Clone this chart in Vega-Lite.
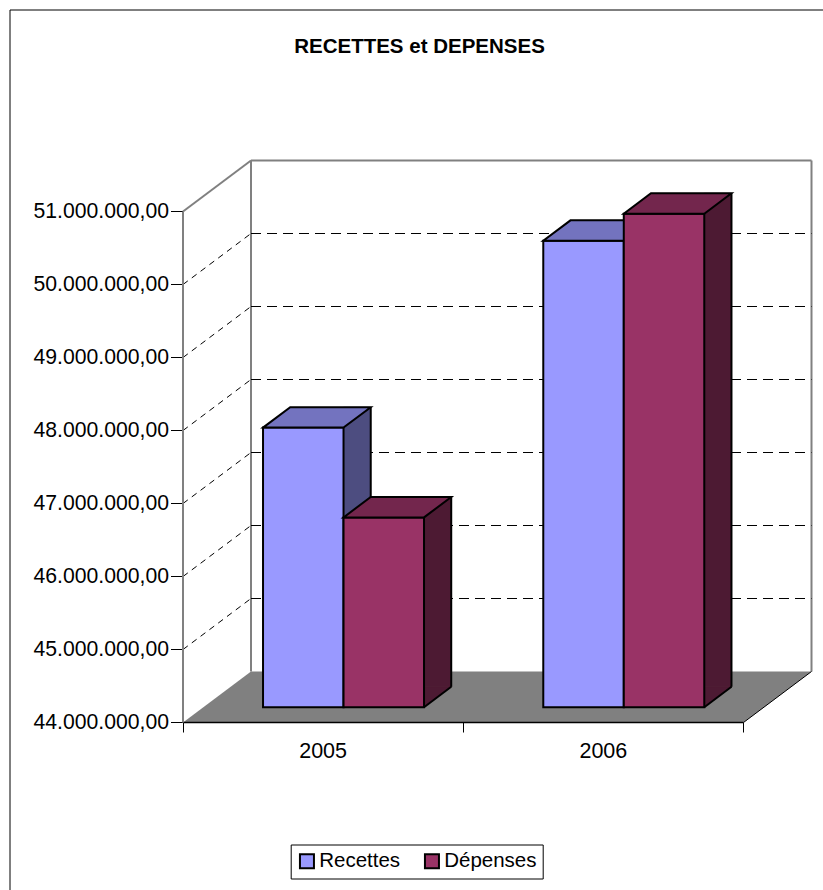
{
  "$schema": "https://vega.github.io/schema/vega-lite/v6.json",
  "autosize": {"type": "none"},
  "padding": {"left": 9.5, "top": 9.5, "right": 0, "bottom": 0},
  "width": 820,
  "height": 890,
  "background": "white",
  "title": {
    "text": "RECETTES et DEPENSES",
    "anchor": "middle",
    "frame": "group",
    "fontSize": 20.5,
    "fontWeight": "bold",
    "color": "black",
    "baseline": "alphabetic",
    "offset": -63.5
  },
  "datasets": {
    "bars": [
      {"year": "2005", "series": "Recettes", "amount": 47830000},
      {"year": "2005", "series": "Dépenses", "amount": 46600000},
      {"year": "2006", "series": "Recettes", "amount": 50390000},
      {"year": "2006", "series": "Dépenses", "amount": 50760000}
    ],
    "levels": [
      {"level": 45000000},
      {"level": 46000000},
      {"level": 47000000},
      {"level": 48000000},
      {"level": 49000000},
      {"level": 50000000}
    ]
  },
  "data": {"name": "bars"},
  "config": {
    "font": "Liberation Sans",
    "view": {"stroke": "black", "strokeWidth": 1},
    "locale": {"number": {"decimal": ",", "thousands": ".", "grouping": [3], "currency": ["", " €"]}}
  },
  "layer": [
    {
      "data": {"values": [{}]},
      "mark": {"type": "point", "shape": "M0,0L560.5,0L628.5,-51L68,-51Z", "size": 4, "filled": true, "fill": "#808080", "strokeWidth": 0, "opacity": 1},
      "encoding": {
        "x": {"datum": "2005", "type": "nominal", "bandPosition": 0, "title": null,
              "scale": {"type": "band", "domain": ["2005", "2006"], "range": [173.5, 734], "paddingInner": 0, "paddingOuter": 0},
              "axis": {"title": null, "orient": "bottom", "offset": -177, "tickBand": "extent", "tickSize": 10, "tickColor": "black", "tickWidth": 1,
                       "domainColor": "black", "domainWidth": 1.5, "labelFontSize": 21.5, "labelColor": "black", "labelPadding": 8,
                       "labelAngle": 0, "grid": false, "zindex": 1, "translate": 0}},
        "y": {"datum": 44000000, "type": "quantitative", "title": null,
              "scale": {"domain": [44000000, 51000000], "range": [713, 202], "zero": false, "nice": false},
              "axis": {"title": null, "orient": "left", "offset": -173.5, "values": [44000000, 45000000, 46000000, 47000000, 48000000, 49000000, 50000000, 51000000],
                       "format": ",.2f", "labelFontSize": 21.2, "labelColor": "black", "tickColor": "black", "tickSize": 12, "tickWidth": 1,
                       "labelPadding": 2, "domainColor": "#808080", "domainWidth": 2, "grid": false, "zindex": 1, "translate": 0,
                       "labelFlush": false, "labelOverlap": false}}
      }
    },
    {
      "data": {"values": [{}]},
      "mark": {"type": "rule", "color": "#808080", "strokeWidth": 2, "xOffset": 68, "x2Offset": 68, "yOffset": -51},
      "encoding": {
        "x": {"datum": "2005", "type": "nominal", "bandPosition": 0, "title": null},
        "x2": {"datum": "2006", "bandPosition": 1},
        "y": {"datum": 51000000, "type": "quantitative", "title": null}
      }
    },
    {
      "data": {"values": [{}]},
      "mark": {"type": "rule", "color": "#808080", "strokeWidth": 2, "xOffset": 68, "yOffset": -51, "y2Offset": -51},
      "encoding": {
        "x": {"datum": "2005", "type": "nominal", "bandPosition": 0, "title": null},
        "y": {"datum": 51000000, "type": "quantitative", "title": null},
        "y2": {"datum": 44000000}
      }
    },
    {
      "data": {"values": [{}]},
      "mark": {"type": "rule", "color": "#808080", "strokeWidth": 2, "xOffset": 68, "yOffset": -51, "y2Offset": -51},
      "encoding": {
        "x": {"datum": "2006", "type": "nominal", "bandPosition": 1, "title": null},
        "y": {"datum": 51000000, "type": "quantitative", "title": null},
        "y2": {"datum": 44000000}
      }
    },
    {
      "data": {"values": [{}]},
      "mark": {"type": "rule", "color": "#808080", "strokeWidth": 2, "x2Offset": 68, "y2Offset": -51},
      "encoding": {
        "x": {"datum": "2005", "type": "nominal", "bandPosition": 0, "title": null},
        "x2": {"datum": "2005", "bandPosition": 0},
        "y": {"datum": 51000000, "type": "quantitative", "title": null},
        "y2": {"datum": 51000000}
      }
    },
    {
      "data": {"name": "levels"},
      "mark": {"type": "rule", "color": "black", "strokeWidth": 1, "strokeDash": [10, 6], "xOffset": 68, "x2Offset": 68, "yOffset": -51},
      "encoding": {
        "x": {"datum": "2005", "type": "nominal", "bandPosition": 0, "title": null},
        "x2": {"datum": "2006", "bandPosition": 1},
        "y": {"field": "level", "type": "quantitative", "title": null}
      }
    },
    {
      "data": {"name": "levels"},
      "mark": {"type": "rule", "color": "black", "strokeWidth": 1, "strokeDash": [6, 5], "x2Offset": 68, "y2Offset": -51},
      "encoding": {
        "x": {"datum": "2005", "type": "nominal", "bandPosition": 0, "title": null},
        "x2": {"datum": "2005", "bandPosition": 0},
        "y": {"field": "level", "type": "quantitative", "title": null},
        "y2": {"field": "level"}
      }
    },
    {
      "data": {"values": [{}]},
      "mark": {"type": "rule", "color": "black", "strokeWidth": 1, "x2Offset": 68, "y2Offset": -51},
      "encoding": {
        "x": {"datum": "2006", "type": "nominal", "bandPosition": 1, "title": null},
        "x2": {"datum": "2006", "bandPosition": 1},
        "y": {"datum": 44000000, "type": "quantitative", "title": null},
        "y2": {"datum": 44000000}
      }
    },
    {
      "transform": [{"filter": "datum.series === 'Recettes'"}],
      "layer": [
        {
          "mark": {"type": "bar", "width": 27.2, "xOffset": 34, "yOffset": -35.7, "y2Offset": -35.7, "fill": "#4D4D80", "stroke": "#4D4D80", "strokeWidth": 0.5},
          "encoding": {
            "x": {"field": "year", "type": "nominal", "title": null},
            "y": {"field": "amount", "type": "quantitative", "title": null},
            "y2": {"datum": 44000000}
          }
        },
        {
          "mark": {"type": "point", "shape": "M0,0L0,-20.4L27.2,-20.4Z", "size": 4, "filled": true, "fill": "#4D4D80", "stroke": "#4D4D80", "strokeWidth": 1, "opacity": 1, "xOffset": 20.4, "yOffset": -15.3},
          "encoding": {
            "x": {"field": "year", "type": "nominal", "title": null},
            "y": {"datum": 44000000, "type": "quantitative", "title": null}
          }
        },
        {
          "mark": {"type": "bar", "width": 80.5, "xOffset": -19.85, "yOffset": -15.3, "y2Offset": -15.3, "stroke": "black", "strokeWidth": 2, "opacity": 1},
          "encoding": {
            "x": {"field": "year", "type": "nominal", "title": null},
            "y": {"field": "amount", "type": "quantitative", "title": null},
            "y2": {"datum": 44000000},
            "color": {"field": "series", "type": "nominal",
                      "scale": {"domain": ["Recettes", "Dépenses"], "range": ["#9999FF", "#993366"]},
                      "legend": {"title": null, "orient": "none", "legendX": 281.2, "legendY": 835, "direction": "horizontal",
                                 "symbolType": "square", "symbolSize": 196, "symbolStrokeColor": "black", "symbolStrokeWidth": 2,
                                 "symbolOpacity": 1, "labelFontSize": 20.5, "labelColor": "black", "labelOffset": 2, "columnPadding": 20,
                                 "padding": 6, "strokeColor": "black", "fillColor": "white"}}
          }
        },
        {
          "mark": {"type": "point", "shape": "M0,0L80.5,0L107.7,-20.4L27.2,-20.4Z", "size": 4, "filled": true, "fill": "#7373BF", "stroke": "black", "strokeWidth": 2, "opacity": 1, "xOffset": -60.1, "yOffset": -15.3},
          "encoding": {
            "x": {"field": "year", "type": "nominal", "title": null},
            "y": {"field": "amount", "type": "quantitative", "title": null}
          }
        },
        {
          "mark": {"type": "rule", "color": "black", "strokeWidth": 2, "xOffset": 47.6, "yOffset": -35.7, "y2Offset": -35.7},
          "encoding": {
            "x": {"field": "year", "type": "nominal", "title": null},
            "y": {"field": "amount", "type": "quantitative", "title": null},
            "y2": {"datum": 44000000}
          }
        },
        {
          "mark": {"type": "point", "shape": "M0,0L27.2,-20.4", "size": 4, "filled": false, "fill": null, "stroke": "black", "strokeWidth": 2, "opacity": 1, "xOffset": 20.4, "yOffset": -15.3},
          "encoding": {
            "x": {"field": "year", "type": "nominal", "title": null},
            "y": {"datum": 44000000, "type": "quantitative", "title": null}
          }
        }
      ]
    },
    {
      "transform": [{"filter": "datum.series === 'Dépenses'"}],
      "layer": [
        {
          "mark": {"type": "bar", "width": 27.2, "xOffset": 114.5, "yOffset": -35.7, "y2Offset": -35.7, "fill": "#4D1A33", "stroke": "#4D1A33", "strokeWidth": 0.5},
          "encoding": {
            "x": {"field": "year", "type": "nominal", "title": null},
            "y": {"field": "amount", "type": "quantitative", "title": null},
            "y2": {"datum": 44000000}
          }
        },
        {
          "mark": {"type": "point", "shape": "M0,0L0,-20.4L27.2,-20.4Z", "size": 4, "filled": true, "fill": "#4D1A33", "stroke": "#4D1A33", "strokeWidth": 1, "opacity": 1, "xOffset": 100.9, "yOffset": -15.3},
          "encoding": {
            "x": {"field": "year", "type": "nominal", "title": null},
            "y": {"datum": 44000000, "type": "quantitative", "title": null}
          }
        },
        {
          "mark": {"type": "bar", "width": 80.5, "xOffset": 60.65, "yOffset": -15.3, "y2Offset": -15.3, "stroke": "black", "strokeWidth": 2, "opacity": 1},
          "encoding": {
            "x": {"field": "year", "type": "nominal", "title": null},
            "y": {"field": "amount", "type": "quantitative", "title": null},
            "y2": {"datum": 44000000},
            "color": {"field": "series", "type": "nominal"}
          }
        },
        {
          "mark": {"type": "point", "shape": "M0,0L80.5,0L107.7,-20.4L27.2,-20.4Z", "size": 4, "filled": true, "fill": "#73264D", "stroke": "black", "strokeWidth": 2, "opacity": 1, "xOffset": 20.4, "yOffset": -15.3},
          "encoding": {
            "x": {"field": "year", "type": "nominal", "title": null},
            "y": {"field": "amount", "type": "quantitative", "title": null}
          }
        },
        {
          "mark": {"type": "rule", "color": "black", "strokeWidth": 2, "xOffset": 128.1, "yOffset": -35.7, "y2Offset": -35.7},
          "encoding": {
            "x": {"field": "year", "type": "nominal", "title": null},
            "y": {"field": "amount", "type": "quantitative", "title": null},
            "y2": {"datum": 44000000}
          }
        },
        {
          "mark": {"type": "point", "shape": "M0,0L27.2,-20.4", "size": 4, "filled": false, "fill": null, "stroke": "black", "strokeWidth": 2, "opacity": 1, "xOffset": 100.9, "yOffset": -15.3},
          "encoding": {
            "x": {"field": "year", "type": "nominal", "title": null},
            "y": {"datum": 44000000, "type": "quantitative", "title": null}
          }
        }
      ]
    }
  ]
}
